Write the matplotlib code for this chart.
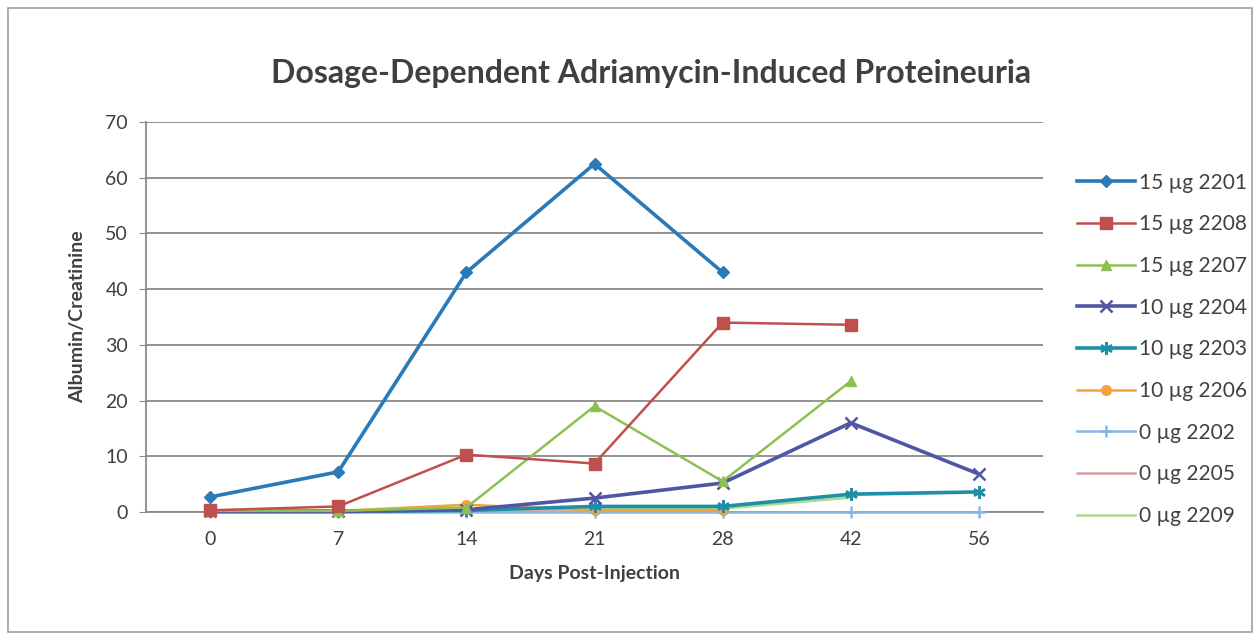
import numpy as np
import matplotlib
matplotlib.use("Agg")
import matplotlib.pyplot as plt
from matplotlib.patches import Rectangle

plt.rcParams['font.family'] = ['Lato', 'DejaVu Sans']

days = ['0', '7', '14', '21', '28', '42', '56']
nan = np.nan

labels = ['15 µg 2201', '15 µg 2208', '15 µg 2207',
          '10 µg 2204', '10 µg 2203', '10 µg 2206',
          '0 µg 2202', '0 µg 2205', '0 µg 2209']

s2201 = [2.7, 7.2, 43.0, 62.5, 43.0, nan, nan]
s2208 = [0.3, 1.0, 10.3, 8.7, 34.0, 33.6, nan]
s2207 = [0.2, 0.2, 0.8, 19.0, 5.5, 23.5, nan]
s2204 = [0.1, 0.1, 0.4, 2.5, 5.2, 16.0, 6.8]
s2203 = [0.1, 0.1, 0.3, 1.0, 1.0, 3.2, 3.6]
s2206 = [0.3, 0.2, 1.3, 0.3, 0.3, nan, nan]
s2202 = [0.0, 0.0, 0.0, 0.0, 0.0, 0.0, 0.0]
s2205 = [0.2, 0.2, 0.2, 0.2, 0.2, nan, nan]
s2209 = [0.3, 0.3, 0.3, 0.6, 0.6, 2.6, nan]

series = [s2201, s2208, s2207, s2204, s2203, s2206, s2202, s2205, s2209]

# styling per series (colour, marker, marker size)
styles = [
    ('#2A7AB8', 'D', 6),
    ('#C0504D', 's', 8),
    ('#8CC152', '^', 7),
    ('#4F56A6', 'x', 8),
    ('#1E8FA6', (6, 2, 0), 9),
    ('#F7A240', 'o', 7),
    ('#86B8E6', '+', 8),
    ('#D9A0A0', None, 0),
    ('#A8DC8C', None, 0),
]

fig = plt.figure(figsize=(12.6, 6.41), dpi=100)
fig.patch.set_facecolor('white')
fig.add_artist(Rectangle((8 / 1260, 9 / 641), 1244 / 1260, 624 / 641,
                         transform=fig.transFigure, fill=False,
                         edgecolor='#a0a0a0', lw=1.2))

ax = fig.add_axes([146 / 1260, 1 - 512 / 641, (1043 - 146) / 1260, (512 - 122) / 641])
x = np.arange(len(days))

# draw the zero-ish series first so the big ones sit on top
order = [8, 7, 6, 5, 4, 3, 2, 1, 0]
lines = {}
for i in order:
    col, mk, ms = styles[i]
    lw = 2.6 if i in (0, 3, 4) else 1.8
    ln, = ax.plot(x, series[i], color=col, marker=mk, markersize=ms,
                  lw=lw, mew=1.8 if mk in ('x', '+', (6, 2, 0)) else 1,
                  label=labels[i], zorder=3 + (9 - i) * 0.1, clip_on=False)
    lines[i] = ln

ax.set_xlim(-0.5, len(days) - 0.5)
ax.set_ylim(0, 70)
ax.set_yticks(range(0, 71, 10))
ax.set_xticks(x)
ax.set_xticklabels(days)
ax.grid(axis='y', color='#8a8a8a', lw=1.3)
ax.set_axisbelow(True)
for sp in ['top', 'right']:
    ax.spines[sp].set_visible(False)
for sp in ['left', 'bottom']:
    ax.spines[sp].set_color('#8a8a8a')
    ax.spines[sp].set_linewidth(1.3)
ax.tick_params(axis='y', length=5, color='#8a8a8a', labelsize=14,
               labelcolor='#404040', pad=8)
ax.tick_params(axis='x', length=0, labelsize=14, labelcolor='#404040', pad=14)

ax.set_xlabel('Days Post-Injection', fontsize=14, fontweight='bold',
              color='#404040', labelpad=12)
ax.set_ylabel('Albumin/Creatinine', fontsize=14, fontweight='bold',
              color='#404040', labelpad=14)
fig.text(651 / 1260, 1 - 73 / 641, 'Dosage-Dependent Adriamycin-Induced Proteineuria',
         ha='center', va='center', fontsize=23, fontweight='bold', color='#404040')

handles = [lines[i] for i in range(9)]
fig.legend(handles, labels, loc='upper left',
           bbox_to_anchor=(1058 / 1260, 1 - 154 / 641),
           frameon=False, fontsize=15, labelspacing=1.04,
           handlelength=2.8, handletextpad=0.2, labelcolor='#404040')

fig.savefig('out.png', dpi=100)
